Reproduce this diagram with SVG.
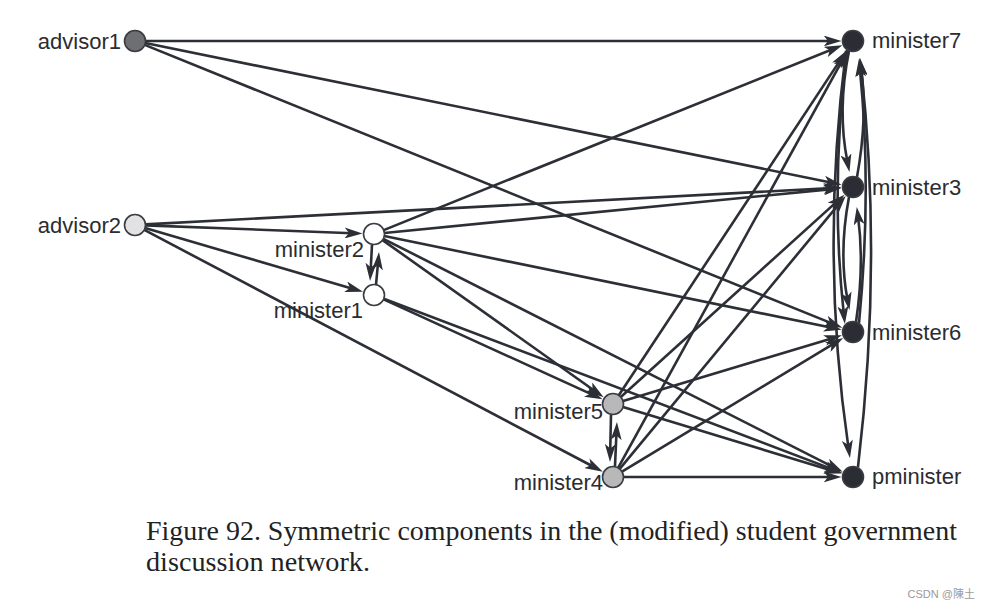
<svg xmlns="http://www.w3.org/2000/svg" width="989" height="610" viewBox="0 0 989 610">
<style>
.e{fill:none;stroke:#2c2f36;stroke-width:2.6;marker-end:url(#ah)}
.n{stroke:#3a3c42;stroke-width:1.6}
.lb{font-family:"Liberation Sans",Arial,sans-serif;font-size:22px;fill:#2b2c30}
.cap{font-family:"Liberation Serif","Times New Roman",serif;font-size:27px;fill:#222}
</style>
<defs>
<marker id="ah" viewBox="0 0 18 11" refX="8" refY="5.5" markerWidth="18" markerHeight="11" markerUnits="userSpaceOnUse" orient="auto">
<path d="M0,0 L18,5.5 L0,11 L4.5,5.5 Z" fill="#2c2f36"/>
</marker>
</defs>
<rect width="989" height="610" fill="#fff"/>
<g id="connectors">
<path class="e" d="M145.5,41 L831.5,41"/>
<path class="e" d="M145.3,43.1 L831.9,182.7"/>
<path class="e" d="M144.7,44.9 L833.1,323.9"/>
<path class="e" d="M145.5,224.4 L831.5,188.1"/>
<path class="e" d="M145.5,225.4 L352.5,233.2"/>
<path class="e" d="M145.1,228 L353.4,289"/>
<path class="e" d="M144.3,229.9 L594,467"/>
<path class="e" d="M383.7,230.1 L833.1,49"/>
<path class="e" d="M384.4,233 L831.6,189.1"/>
<path class="e" d="M384.3,236.1 L831.9,327.7"/>
<path class="e" d="M382.6,240.1 L595.5,391.5"/>
<path class="e" d="M383.4,238.8 L833.8,467.3"/>
<path class="e" d="M383.6,299.4 L593.4,395.1"/>
<path class="e" d="M383.8,298.7 L832.9,469.4"/>
<path class="e" d="M618.8,395.2 L841.1,58.9"/>
<path class="e" d="M620.8,397 L837.1,201.4"/>
<path class="e" d="M623.1,401 L832.4,338.2"/>
<path class="e" d="M623,407.1 L832.4,470.7"/>
<path class="e" d="M618.1,467.8 L842.6,59.8"/>
<path class="e" d="M619.7,468.9 L839.3,203.6"/>
<path class="e" d="M622,471.6 L834.6,343.1"/>
<path class="e" d="M623.5,477 L831.5,477"/>
<path class="e" d="M372,245 L370.6,271"/>
<path class="e" d="M376,285 L378.1,262"/>
<path class="e" d="M611,415 L610.2,452"/>
<path class="e" d="M615,466 L616.5,432"/>
<path class="e" d="M849,51 Q837,110 847.5,162.3"/>
<path class="e" d="M857,177 Q868,117 861,67.8"/>
<path class="e" d="M858,467 Q882.5,262 861.1,67.9"/>
<path class="e" d="M859,323 Q872,190 859.9,69"/>
<path class="e" d="M847,50 Q830,187 843.8,314.1"/>
<path class="e" d="M846,51 Q820,254 848.5,448.1"/>
<path class="e" d="M849,197 Q838.5,253 847.6,300.3"/>
<path class="e" d="M856,322 Q864.5,265 858.1,216.9"/>
</g>
<g id="advisor1"><circle class="n" cx="135" cy="41" r="10.5" fill="#6e6f72"/><text class="lb" x="121" y="49" text-anchor="end">advisor1</text></g>
<g id="advisor2"><circle class="n" cx="135" cy="225" r="10.5" fill="#e2e2e2"/><text class="lb" x="121" y="233" text-anchor="end">advisor2</text></g>
<g id="minister2"><circle class="n" cx="374" cy="234" r="10.5" fill="#fff"/><text class="lb" x="364" y="257" text-anchor="end">minister2</text></g>
<g id="minister1"><circle class="n" cx="374" cy="295" r="10.5" fill="#fff"/><text class="lb" x="363" y="318" text-anchor="end">minister1</text></g>
<g id="minister5"><circle class="n" cx="613" cy="404" r="10.5" fill="#b8b8b8"/><text class="lb" x="603" y="419" text-anchor="end">minister5</text></g>
<g id="minister4"><circle class="n" cx="613" cy="477" r="10.5" fill="#b8b8b8"/><text class="lb" x="603" y="490" text-anchor="end">minister4</text></g>
<g id="minister7"><circle class="n" cx="853" cy="41" r="10.5" fill="#2a2d34"/><text class="lb" x="872" y="48">minister7</text></g>
<g id="minister3"><circle class="n" cx="853" cy="187" r="10.5" fill="#2a2d34"/><text class="lb" x="872" y="195">minister3</text></g>
<g id="minister6"><circle class="n" cx="853" cy="332" r="10.5" fill="#2a2d34"/><text class="lb" x="872" y="340">minister6</text></g>
<g id="pminister"><circle class="n" cx="853" cy="477" r="10.5" fill="#2a2d34"/><text class="lb" x="872" y="484">pminister</text></g>
<text class="cap" x="146" y="540" textLength="811" lengthAdjust="spacingAndGlyphs">Figure 92. Symmetric components in the (modified) student government</text>
<text class="cap" x="146" y="571" textLength="224" lengthAdjust="spacingAndGlyphs">discussion network.</text>
<text x="975" y="598" text-anchor="end" style="font-family:'Liberation Sans','Noto Sans CJK SC',sans-serif;font-size:11px;fill:#9a9a9a">CSDN @陳土</text>
</svg>
